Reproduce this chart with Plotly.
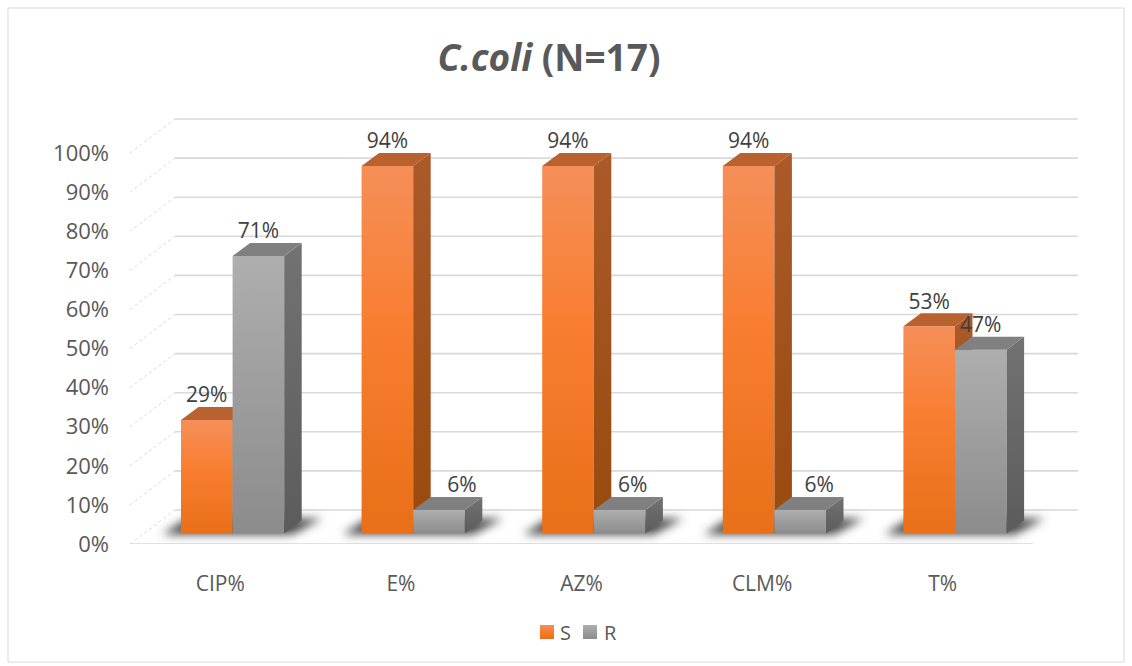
import plotly.graph_objects as go

categories = ["CIP%", "E%", "AZ%", "CLM%", "T%"]
s_values = [29, 94, 94, 94, 53]
r_values = [71, 6, 6, 6, 47]
y_ticks = [0, 10, 20, 30, 40, 50, 60, 70, 80, 90, 100]
# manual sideways nudges of the R data labels, in pixels
r_label_nudge = [0, 23, 13, 19, 0]
s_label_nudge = [0, 0, 0, 0, 0]

# Geometry of the fake 3-D projection (pixels per unit, then pixel offsets)
W, H = 1132, 666
L, R, T, B = 130, 1090, 100, 544
PX_X, PX_Y = 180.6, 3.91
ux = lambda px: px / PX_X
uy = lambda px: px / PX_Y
BASE = uy(10.5)
BAR_W = ux(51.6)
OFF_S, OFF_R = ux(-39.3), ux(12.3)
DX, DY = ux(17.5), uy(13)
WALL_DX, WALL_DY = ux(45), uy(34)
N = len(categories)

C_S, C_S_SIDE, C_S_TOP = "#F47C2C", "#A5561F", "#B9622F"
C_R, C_R_SIDE, C_R_TOP = "#A0A0A0", "#6A6A6A", "#808080"
C_SHADOW = "#4A4A4A"
GRID = "#D9D9D9"
TXT = "#595959"
FONT = "Open Sans"

fig = go.Figure()


def poly(xs, ys, color, xa, ya):
    fig.add_trace(go.Scatter(x=xs + xs[:1], y=ys + ys[:1], mode="lines", fill="toself",
                             fillcolor=color, line=dict(width=0), hoverinfo="skip",
                             showlegend=False, xaxis=xa, yaxis=ya))


# back wall, floor edge and diagonals
xl0, xr0 = -0.5, -0.5 + N
gx, gy = [], []
for v in y_ticks:
    gx += [xl0 + WALL_DX, xr0 + WALL_DX, None]
    gy += [v + WALL_DY, v + WALL_DY, None]
fig.add_trace(go.Scatter(x=gx, y=gy, mode="lines", line=dict(color=GRID, width=1.6),
                         hoverinfo="skip", showlegend=False))
dx, dy = [], []
for v in y_ticks:
    dx += [xl0, xl0 + WALL_DX, None]
    dy += [v, v + WALL_DY, None]
fig.add_trace(go.Scatter(x=dx, y=dy, mode="lines", line=dict(color=GRID, width=1, dash="dot"),
                         hoverinfo="skip", showlegend=False))
fig.add_trace(go.Scatter(x=[xl0, xr0], y=[0, 0], mode="lines", line=dict(color=GRID, width=1.6),
                         hoverinfo="skip", showlegend=False))

# floor shadows
for i in range(N):
    xa = i + OFF_S
    xb = i + OFF_R + BAR_W
    poly([xa - ux(19), xb + ux(8), xb + ux(38), xa + ux(6)],
         [BASE - uy(1), BASE - uy(1), BASE + uy(15), BASE + uy(15)], C_SHADOW, "x", "y")


def series(name, values, off, color, side, top, xa, ya):
    fig.add_trace(go.Bar(x=list(range(N)), y=values, base=[BASE] * N, offset=off, width=BAR_W,
                         name=name, marker=dict(color=color, line=dict(width=0)),
                         hoverinfo="skip", xaxis=xa, yaxis=ya))
    for i, v in enumerate(values):
        x0 = i + off
        x1 = x0 + BAR_W
        yt = v + BASE
        poly([x1, x1 + DX, x1 + DX, x1], [BASE, BASE + DY, yt + DY, yt], side, xa, ya)
        poly([x0, x1, x1 + DX, x0 + DX], [yt, yt, yt + DY, yt + DY], top, xa, ya)


series("S", s_values, OFF_S, C_S, C_S_SIDE, C_S_TOP, "x2", "y2")
series("R", r_values, OFF_R, C_R, C_R_SIDE, C_R_TOP, "x3", "y3")

# data labels on the top layer
lx, ly, lt = [], [], []
for vals, off, nudge in ((s_values, OFF_S, s_label_nudge), (r_values, OFF_R, r_label_nudge)):
    for i, v in enumerate(vals):
        lx.append(i + off + BAR_W / 2 + ux(nudge[i]))
        ly.append(v + BASE + uy(23))
        lt.append(f"{v}%")
fig.add_trace(go.Scatter(x=lx, y=ly, text=lt, mode="text", textposition="middle center",
                         textfont=dict(family=FONT, size=21, color="#404040"),
                         hoverinfo="skip", showlegend=False, xaxis="x4", yaxis="y4"))

x_range = [-0.5, -0.5 + ux(R - L)]
y_range = [0, uy(B - T)]
hidden_x = dict(range=x_range, overlaying="x", visible=False)
hidden_y = dict(range=y_range, overlaying="y", visible=False)
pw, ph = R - L, B - T

fig.update_layout(
    width=W, height=H,
    margin=dict(l=L, r=W - R, t=T, b=H - B, pad=0),
    paper_bgcolor="white", plot_bgcolor="rgba(0,0,0,0)",
    barmode="overlay",
    font=dict(family=FONT, color=TXT, size=20),
    title=dict(text="<b><i>C.coli</i> (N=17)</b>", font=dict(family=FONT, size=37, color=TXT),
               xref="paper", x=(549 - L) / pw, xanchor="center",
               yref="container", y=1 - 58 / H, yanchor="middle"),
    xaxis=dict(range=x_range, tickmode="array", tickvals=list(range(N)), ticktext=categories,
               showgrid=False, zeroline=False, showline=False, ticks="", ticklabelstandoff=25,
               tickfont=dict(family=FONT, size=21, color=TXT)),
    yaxis=dict(range=y_range, tickmode="array", tickvals=y_ticks,
               ticktext=[f"{v}%" for v in y_ticks],
               showgrid=False, zeroline=False, showline=False, ticks="", ticklabelstandoff=20,
               tickfont=dict(family=FONT, size=22, color=TXT)),
    xaxis2=hidden_x, yaxis2=hidden_y,
    xaxis3=hidden_x, yaxis3=hidden_y,
    xaxis4=hidden_x, yaxis4=hidden_y,
    legend=dict(orientation="h", xref="paper", yref="paper", x=(578 - L) / pw, xanchor="center",
                y=(B - 632) / ph, yanchor="middle", font=dict(family=FONT, size=20, color=TXT),
                bgcolor="rgba(0,0,0,0)"),
    shapes=[dict(type="rect", xref="paper", yref="paper", layer="below",
                 x0=(8 - L) / pw, x1=(1124 - L) / pw, y0=(B - 662) / ph, y1=(B - 8) / ph,
                 line=dict(color="#D9D9D9", width=1), fillcolor="rgba(0,0,0,0)")],
)

post = """
document.body.style.margin = '0';
var NS = 'http://www.w3.org/2000/svg';
var svg = document.querySelector('.js-plotly-plot .main-svg');
var defs = document.createElementNS(NS, 'defs');
function grad(id, stops) {
  var g = document.createElementNS(NS, 'linearGradient');
  g.setAttribute('id', id); g.setAttribute('x1', '0'); g.setAttribute('y1', '0');
  g.setAttribute('x2', '0'); g.setAttribute('y2', '1');
  stops.forEach(function (s) {
    var e = document.createElementNS(NS, 'stop');
    e.setAttribute('offset', s[0]); e.setAttribute('stop-color', s[1]); g.appendChild(e);
  });
  defs.appendChild(g);
}
grad('gS', [[0, '#F58F58'], [0.45, '#F97D30'], [1, '#E96F18']]);
grad('gR', [[0, '#AEAEAE'], [1, '#8C8C8C']]);
grad('gSs', [[0, '#AB5A29'], [1, '#984A0E']]);
grad('gRs', [[0, '#727272'], [1, '#5C5C5C']]);
var f = document.createElementNS(NS, 'filter');
f.setAttribute('id', 'blurS');
f.setAttribute('x', '-20%'); f.setAttribute('y', '-80%');
f.setAttribute('width', '140%'); f.setAttribute('height', '260%');
var b = document.createElementNS(NS, 'feGaussianBlur');
b.setAttribute('stdDeviation', '5');
f.appendChild(b); defs.appendChild(f);
svg.insertBefore(defs, svg.firstChild);
var map = {'rgb(244, 124, 44)': 'gS', 'rgb(160, 160, 160)': 'gR',
           'rgb(165, 86, 31)': 'gSs', 'rgb(106, 106, 106)': 'gRs'};
document.querySelectorAll('.js-plotly-plot path').forEach(function (p) {
  var c = p.style.fill;
  if (map[c]) p.style.fill = 'url(#' + map[c] + ')';
  if (c === 'rgb(74, 74, 74)') p.style.filter = 'url(#blurS)';
});
// legend placement: swatch and text lefts as in the reference
var targets = [[540, 560], [583, 604]];
var clip = document.querySelector('.legend .scrollbox');
if (clip) clip.removeAttribute('clip-path');
document.querySelectorAll('.legend .traces').forEach(function (t, i) {
  var sw = t.querySelector('.legendpoints path');
  var tx = t.querySelector('.legendtext');
  if (!sw || !tx || !targets[i]) return;
  sw.setAttribute('d', 'M7,7H-7V-7H7Z');
  var m = /translate\\(([-\\d.]+)[, ]+([-\\d.]+)\\)/.exec(t.getAttribute('transform'));
  var d = targets[i][0] - sw.getBoundingClientRect().left;
  t.setAttribute('transform', 'translate(' + (parseFloat(m[1]) + d) + ',' + m[2] + ')');
  var e = targets[i][1] - tx.getBoundingClientRect().left;
  tx.setAttribute('x', parseFloat(tx.getAttribute('x')) + e);
});
"""

fig.write_html("out.html", post_script=post, config=dict(displayModeBar=False))
